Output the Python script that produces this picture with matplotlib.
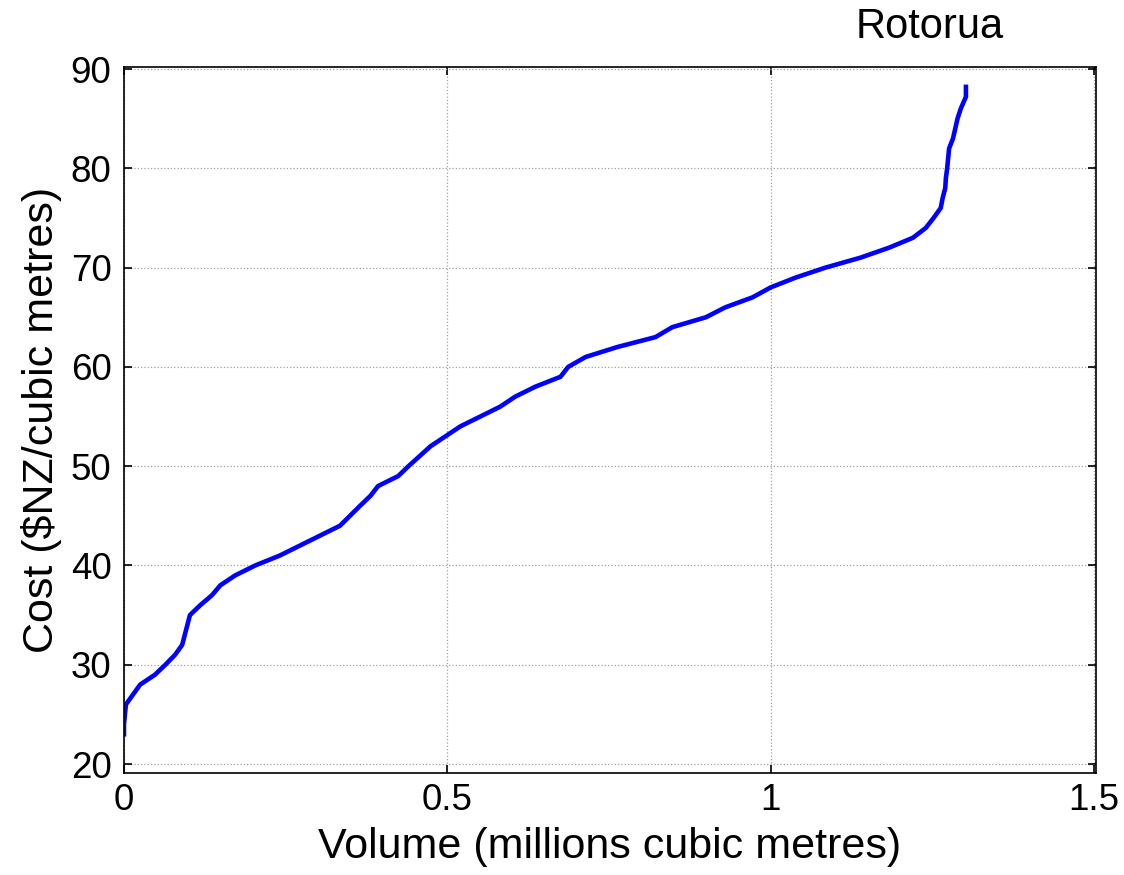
import matplotlib.pyplot as plt

plt.rcParams['font.family'] = ['Liberation Sans', 'DejaVu Sans']

# supply curve: cumulative volume (millions m3) against unit cost ($NZ/m3)
volume = [0.0, 0.0, 0.003, 0.025, 0.048, 0.064, 0.079, 0.09, 0.102, 0.118, 0.136,
          0.149, 0.172, 0.203, 0.241, 0.272, 0.303, 0.334, 0.365, 0.381, 0.393,
          0.424, 0.44, 0.474, 0.497, 0.52, 0.551, 0.582, 0.605, 0.636, 0.675,
          0.687, 0.714, 0.763, 0.822, 0.848, 0.9, 0.93, 0.972, 1.0, 1.039, 1.085,
          1.139, 1.183, 1.22, 1.24, 1.252, 1.263, 1.266, 1.27, 1.271, 1.273,
          1.276, 1.282, 1.289, 1.294, 1.302, 1.302]
cost = [23, 24, 26, 28, 29, 30, 31, 32, 35, 36, 37, 38, 39, 40, 41, 42, 43, 44,
        46, 47, 48, 49, 50, 52, 53, 54, 55, 56, 57, 58, 59, 60, 61, 62, 63, 64,
        65, 66, 67, 68, 69, 70, 71, 72, 73, 74, 75, 76, 77, 78, 79, 80, 82, 83,
        85, 86, 87.2, 88.2]

fig = plt.figure(figsize=(11.24, 8.75), dpi=100)
ax = fig.add_axes([0.1103, 0.1166, 0.8647, 0.8068])

ax.plot(volume, cost, color='#0000ff', linewidth=3.3, solid_joinstyle='round')

ax.set_xlim(0, 1.503)
ax.set_ylim(19.1, 90.2)
ax.set_xticks([0, 0.5, 1, 1.5])
ax.set_xticklabels(['0', '0.5', '1', '1.5'])
ax.set_yticks(range(20, 91, 10))
ax.tick_params(direction='in', top=True, right=True, labelsize=26.5, length=6, width=1.2)
ax.tick_params(axis='x', pad=7)
ax.tick_params(axis='y', pad=9)
ax.grid(True, color='#a0a0a0', linestyle=':', linewidth=0.9)
for s in ax.spines.values():
    s.set_linewidth(1.2)

ax.set_xlabel('Volume (millions cubic metres)', fontsize=31, labelpad=7)
ax.set_ylabel('Cost (\\$NZ/cubic metres)', fontsize=31, labelpad=6)

fig.text(930 / 1124, 1 - 27 / 875, 'Rotorua', fontsize=30, ha='center', va='center')

fig.savefig('out.png', dpi=100)
